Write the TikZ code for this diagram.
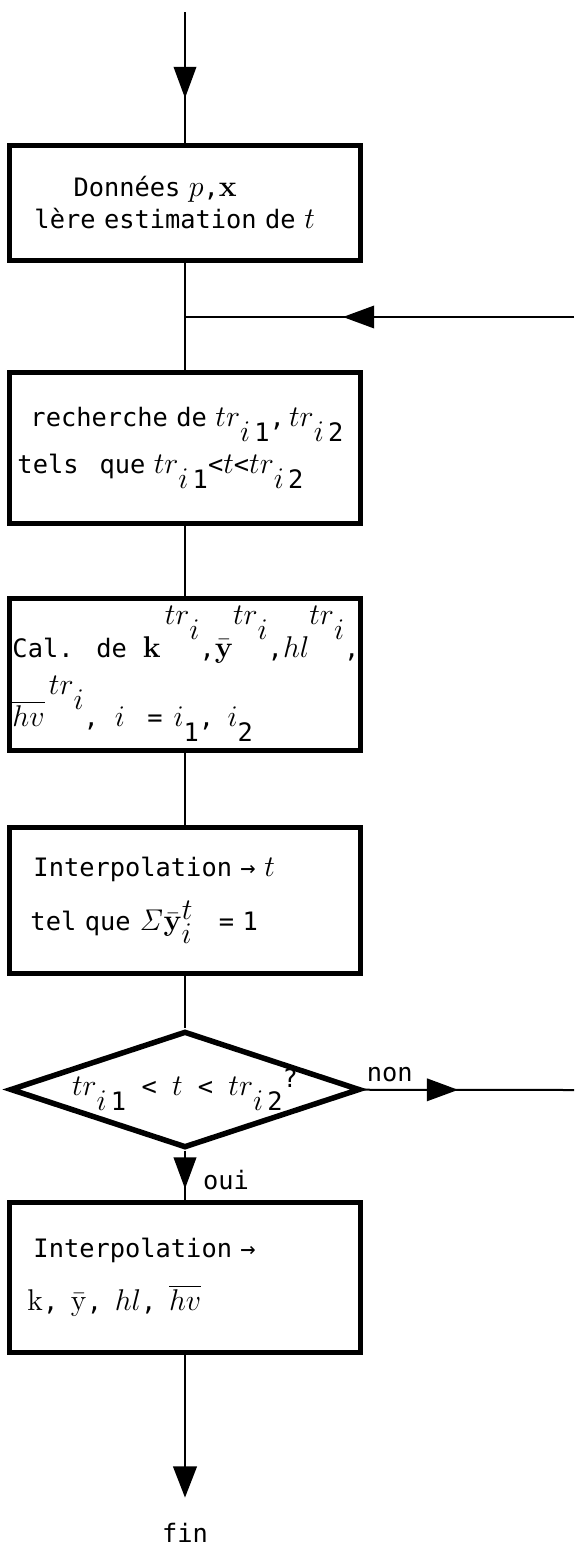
\documentclass[tikz,border=0pt]{standalone}
\usepackage[no-math]{fontspec}
\setmainfont{DejaVu Sans Mono}[Scale=0.86]
\usepackage{tikz}
\usetikzlibrary{arrows.meta,decorations.markings,shapes.geometric}

\newcommand{\subdn}[1]{\raisebox{-6pt}{#1}}
\newcommand{\supup}[1]{\raisebox{13pt}{#1}}

\begin{document}
\begin{tikzpicture}[x=0.4pt, y=-0.4pt,
  every node/.style={font=\fontsize{11.8pt}{12pt}\selectfont},
  stepbox/.style={draw, rectangle, line width=2pt, minimum width=140pt, text width=136pt, inner xsep=2pt, align=left},
  testbox/.style={draw, diamond, aspect=3, line width=2.2pt, inner sep=0pt, minimum width=140pt, minimum height=46pt},
  flow/.style={line width=0.8pt},
  midtip/.style={postaction={decorate}, decoration={markings, mark=at position #1 with {\arrow{Triangle[length=12.5pt, width=9pt]}}}}
]
\useasboundingbox (0,0) rectangle (574,1546);

\coordinate (start) at (185,12);
\node[stepbox, minimum height=46pt] (data) at (185,202.5)
  {\hspace*{23.4pt}Données $p$,$\mathbf{x}$\\[1pt]
   \hspace*{7.8pt}lère estimation de $t$};
\coordinate (loopin) at (185,317);
\coordinate (loopfrom) at (574,317);
\node[stepbox, minimum height=60.4pt] (search) at (185,447.5)
  {\hspace*{6.2pt}recherche de $tr$\subdn{$i$\,1},\,$tr$\subdn{$i$\,2}\\[4pt]
   \hspace*{1pt}tels\hspace{5pt} que $tr$\subdn{$i$\,1}<$t$<$tr$\subdn{$i$\,2}};
\node[stepbox, minimum height=60.8pt, text width=138pt, inner xsep=1pt] (calc) at (185,674)
  {\mbox{Cal.\hspace{4pt} de\hspace{3pt} $\mathbf{k}$\,\supup{$tr$\subdn{$i$}},$\bar{\mathbf{y}}$\supup{$tr$\subdn{$i$}},$hl$\supup{$tr$\subdn{$i$}},}\\[4pt]
   $\overline{hv}$\,\supup{$tr$\subdn{$i$}}, \hspace{3pt}$i$\hspace{9pt}=\hspace{1pt} $i$\subdn{1},\hspace{2pt} $i$\subdn{2}};
\node[stepbox, minimum height=58.4pt] (interp) at (185,900)
  {\hspace*{7.4pt}Interpolation → $t$\\[7pt]
   \hspace*{6.2pt}tel que $\mathit{\Sigma}\bar{\mathbf{y}}^{\textstyle t}_{\textstyle i}$\hspace{10pt}= 1};
\node[testbox] (test) at (185,1089.5)
  {$tr$\subdn{$i$\,1} < $t$ < $tr$\subdn{$i$\,2}\raisebox{3pt}{?}};
\coordinate (nonend) at (574,1090);
\node[stepbox, minimum height=60pt] (result) at (185,1277)
  {\hspace*{7.4pt}Interpolation  →\\[8pt]
   \hspace*{5pt}$\mathrm{k}$,\, $\bar{\mathrm{y}}$,\, $hl$,\, $\overline{hv}$};
\node[anchor=base] (fin) at (185,1542) {fin};

% connectors
\draw[flow, midtip=0.66] (start) -- (data);
\draw[flow] (data) -- (search);
\draw[flow, midtip=0.594] (loopfrom) -- (loopin);
\draw[flow] (search) -- (calc);
\draw[flow] (calc) -- (interp);
\draw[flow] (interp) -- (test);
\draw[flow, midtip=0.453] (test) -- node[above, pos=0.13] {non} (nonend);
\draw[flow, midtip=0.78] (test) -- node[right, xshift=4pt, yshift=-2pt] {oui} (result);
\draw[flow, -{Triangle[length=12.5pt, width=9.5pt]}, shorten >=7pt] (result) -- (fin);
\end{tikzpicture}
\end{document}
